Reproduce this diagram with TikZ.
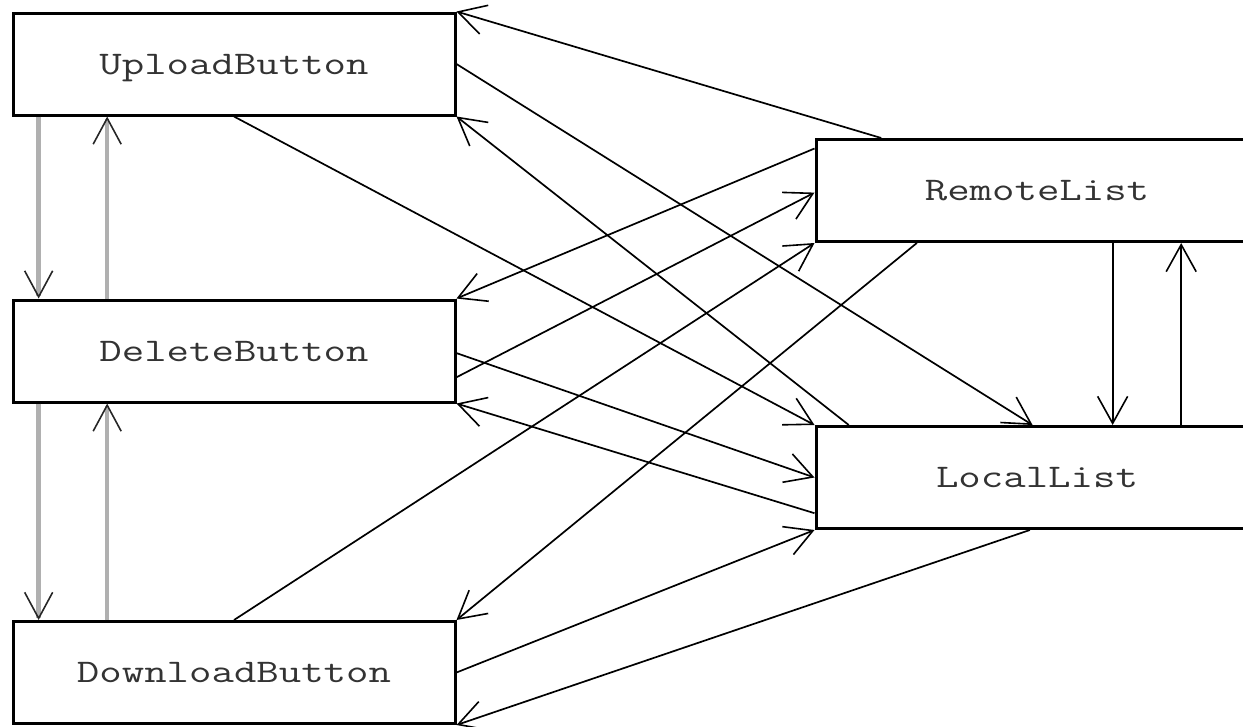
\documentclass[tikz,border=0pt]{standalone}
\usepackage{fontspec}
\usetikzlibrary{arrows.meta,calc}
\newfontfamily\boxfont{Latin Modern Mono}[FakeStretch=1.32]
\definecolor{linkgray}{HTML}{B0B0B0}
\begin{document}
\begin{tikzpicture}[x=1pt,y=-1pt,
  box/.style={draw,line width=3pt,minimum width=442pt,minimum height=102pt,
    inner sep=0pt,text height=20pt,text depth=-3pt,
    font=\boxfont\fontsize{33}{38}\selectfont,text=black!80},
  link/.style={line width=1.7pt,-{Straight Barb[length=27pt,width=30pt,line width=1.6pt]}},
  stack/.style={line width=4.5pt,draw=linkgray,
    -{Straight Barb[length=26pt,width=28pt,line width=1.6pt,color=black!85]}}]
\clip (0,0) rectangle (1243,726);

% components
\node[box] (up)     at (234,64)    {UploadButton};
\node[box] (del)    at (234,351)   {DeleteButton};
\node[box] (down)   at (234,672.5) {DownloadButton};
\node[box] (remote) at (1037,190.5) {RemoteList};
\node[box] (local)  at (1037,477.5) {LocalList};

% ports along the box borders
\coordinate (rT)  at ($(remote.north west)!0.15!(remote.north east)$);
\coordinate (rL1) at ($(remote.north west)!0.10!(remote.south west)$);
\coordinate (rL2) at ($(remote.north west)!0.52!(remote.south west)$);
\coordinate (rB1) at ($(remote.south west)!0.23!(remote.south east)$);
\coordinate (rB2) at ($(remote.south west)!0.67!(remote.south east)$);
\coordinate (rB3) at ($(remote.south west)!0.824!(remote.south east)$);
\coordinate (lT1) at ($(local.north west)!0.077!(local.north east)$);
\coordinate (lT2) at ($(local.north west)!0.49!(local.north east)$);
\coordinate (lT3) at ($(local.north west)!0.67!(local.north east)$);
\coordinate (lT4) at ($(local.north west)!0.824!(local.north east)$);
\coordinate (lL)  at ($(local.north west)!0.84!(local.south west)$);
\coordinate (lB)  at ($(local.south west)!0.484!(local.south east)$);
\coordinate (dR1) at ($(del.north east)!0.52!(del.south east)$);
\coordinate (dR2) at ($(del.north east)!0.75!(del.south east)$);
\coordinate (uB1) at ($(up.south west)!0.061!(up.south east)$);
\coordinate (uB2) at ($(up.south west)!0.215!(up.south east)$);
\coordinate (dT1) at ($(del.north west)!0.061!(del.north east)$);
\coordinate (dT2) at ($(del.north west)!0.215!(del.north east)$);
\coordinate (dB1) at ($(del.south west)!0.061!(del.south east)$);
\coordinate (dB2) at ($(del.south west)!0.215!(del.south east)$);
\coordinate (wT1) at ($(down.north west)!0.061!(down.north east)$);
\coordinate (wT2) at ($(down.north west)!0.215!(down.north east)$);

% button stack
\draw[stack] (uB1) -- (dT1);
\draw[stack] (dT2) -- (uB2);
\draw[stack] (dB1) -- (wT1);
\draw[stack] (wT2) -- (dB2);

% lists
\draw[link] (rB2) -- (lT3);
\draw[link] (lT4) -- (rB3);

% buttons and lists
\draw[link] (rT) -- (up.north east);
\draw[link] (up.east) -- (lT2);
\draw[link] (lT1) -- (up.south east);
\draw[link] (up.south) -- (local.north west);
\draw[link] (rL1) -- (del.north east);
\draw[link] (dR1) -- (local.west);
\draw[link] (dR2) -- (rL2);
\draw[link] (lL) -- (del.south east);
\draw[link] (down.north) -- (remote.south west);
\draw[link] (rB1) -- (down.north east);
\draw[link] (down.east) -- (local.south west);
\draw[link] (lB) -- (down.south east);
\end{tikzpicture}
\end{document}
